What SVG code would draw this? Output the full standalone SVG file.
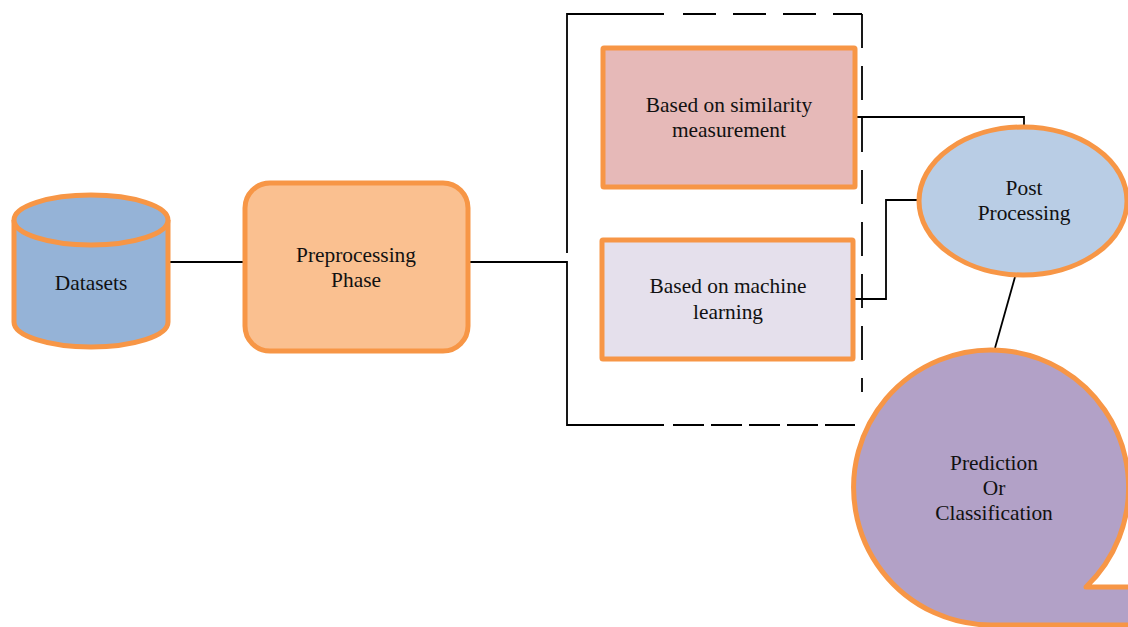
<svg xmlns="http://www.w3.org/2000/svg" width="1128" height="627" viewBox="0 0 1128 627">
<style>
.n{stroke:#F79646;stroke-width:5;stroke-linejoin:round}
.t{font-family:"Liberation Serif","Times New Roman",serif;font-size:21.4px;fill:#111;text-anchor:middle}
.c{fill:none;stroke:#000;stroke-width:1.8}
</style>
<rect width="1128" height="627" fill="#fff"/>
<g id="connectors">
<line class="c" x1="170" y1="262" x2="243" y2="262"/>
<polyline class="c" points="470,262 567,262 567,425 664,425"/>
<polyline class="c" points="567,253 567,14 664,14"/>
<line class="c" x1="683" y1="14" x2="862" y2="14" stroke-dasharray="33 17"/>
<line class="c" x1="862" y1="14" x2="862" y2="392" stroke-dasharray="34 18"/>
<line class="c" x1="673" y1="425" x2="855" y2="425" stroke-dasharray="31 7"/>
<polyline class="c" points="857,117 1024,117 1024,127"/>
<polyline class="c" points="855,299 886,299 886,200 918,200"/>
<line class="c" x1="1015" y1="277" x2="995" y2="348"/>
</g>
<g id="datasets">
<path class="n" fill="#95B3D7" d="M14,220 V322 A77,25 0 0 0 168,322 V220"/>
<ellipse class="n" fill="#95B3D7" cx="91" cy="220" rx="77" ry="25"/>
<text class="t" x="91" y="290">Datasets</text>
</g>
<g id="preprocessing">
<rect class="n" fill="#FAC090" x="245" y="183" width="223" height="168" rx="25"/>
<text class="t" x="356" y="262">Preprocessing</text>
<text class="t" x="356" y="287">Phase</text>
</g>
<g id="similarity">
<rect class="n" fill="#E6B9B8" x="603" y="48" width="252" height="139" rx="1"/>
<text class="t" x="729" y="112">Based on similarity</text>
<text class="t" x="729" y="137">measurement</text>
</g>
<g id="machine">
<rect class="n" fill="#E5E0EC" x="602" y="240" width="251" height="119" rx="1"/>
<text class="t" x="728" y="293">Based on machine</text>
<text class="t" x="728" y="319">learning</text>
</g>
<g id="post">
<ellipse class="n" fill="#B9CDE5" cx="1023" cy="201" rx="104" ry="74"/>
<text class="t" x="1024" y="195">Post</text>
<text class="t" x="1024" y="220">Processing</text>
</g>
<g id="prediction">
<path class="n" fill="#B2A1C7" d="M1086,587 A137.5,137.5 0 1 0 992,625 L1140,625 L1140,587 Z"/>
<text class="t" x="994" y="470">Prediction</text>
<text class="t" x="994" y="495">Or</text>
<text class="t" x="994" y="520">Classification</text>
</g>
</svg>
